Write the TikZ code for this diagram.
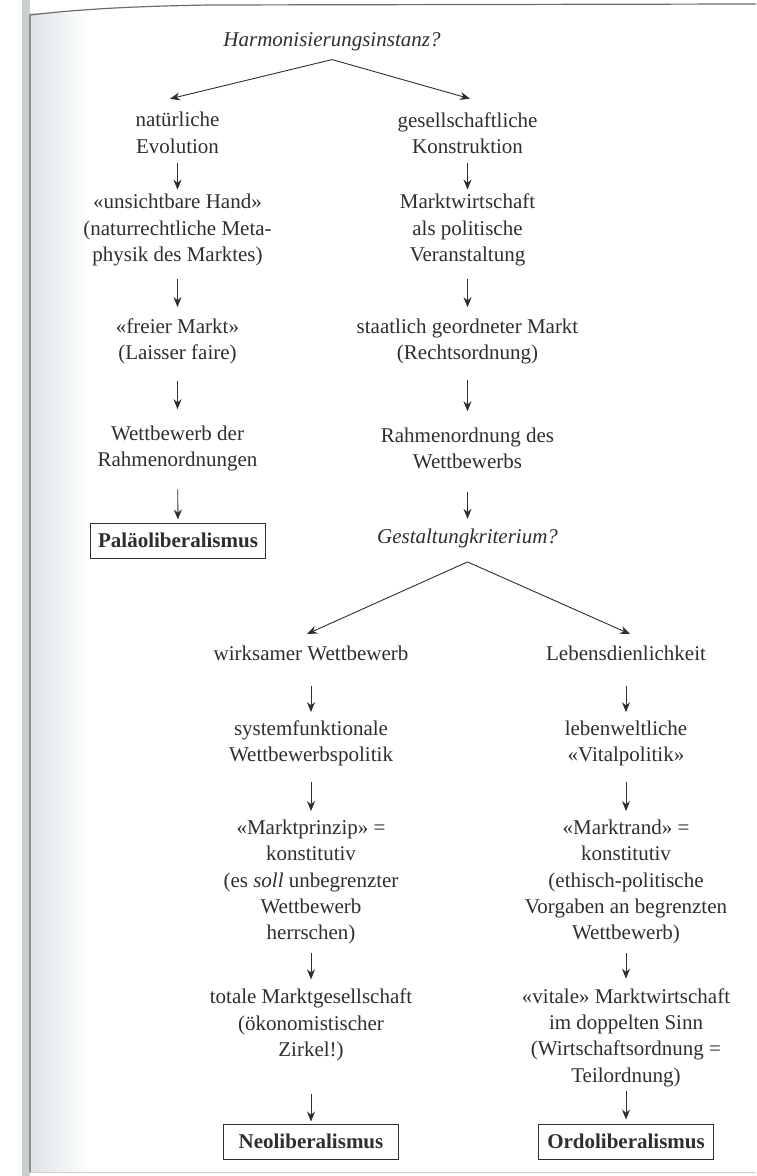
\documentclass[tikz,border=0pt]{standalone}
\usepackage{fontspec}
\setmainfont{Liberation Serif}
\usepackage{tikz}
\usetikzlibrary{positioning,arrows.meta}
\definecolor{ink}{HTML}{2E2E2E}
\definecolor{pageedge}{HTML}{C8D0CC}
\definecolor{pageshade}{HTML}{DCE3E6}

\begin{document}
\begin{tikzpicture}[x=0.5pt,y=-0.5pt,
    every node/.style={align=center,inner sep=2pt,text=ink,font=\fontsize{10.5}{13.2}\selectfont},
    ask/.style={font=\fontsize{10.5}{13.2}\selectfont\itshape},
    lib/.style={draw=ink,line width=0.5pt,font=\fontsize{10.5}{13.2}\selectfont\bfseries,minimum height=17.5pt,minimum width=87.5pt},
    flow/.style={draw=ink,line width=0.45pt,-{Stealth[length=5pt,width=4pt]}}]
    \useasboundingbox (0,0) rectangle (756,1176);
    % edge of the scanned page
    \fill[pageedge] (22,0) rectangle (30,1176);
    \shade[left color=pageshade,right color=white] (30,14) rectangle (90,1172);
    \draw[ink!70,line width=0.6pt] (30,1172) -- (30,15) .. controls (90,8) and (150,6) .. (210,5) -- (756,4);
    \draw[ink!25,line width=0.5pt] (30,1172) -- (756,1172);

    \node[ask] (harm) at (332,42) {Harmonisierungsinstanz?};
    \coordinate[below=2pt of harm] (harmtip);
    \node (evo) at (177.5,133) {natürliche\\Evolution};
    \node (konstr) at (467.5,133) {gesellschaftliche\\Konstruktion};
    \node (hand) at (177.5,230) {«unsichtbare Hand»\\(naturrechtliche Meta-\\physik des Marktes)};
    \node (veranst) at (467.5,230) {Marktwirtschaft\\als politische\\Veranstaltung};
    \node (frei) at (177.5,341.5) {«freier Markt»\\(Laisser faire)};
    \node (staat) at (467.5,341.5) {staatlich geordneter Markt\\(Rechtsordnung)};
    \node (rahmenL) at (177.5,448.5) {Wettbewerb der\\Rahmenordnungen};
    \node (rahmenR) at (467.5,448.5) {Rahmenordnung des\\Wettbewerbs};
    \node[lib] (palaeo) at (178,540.5) {Paläoliberalismus};
    \node[ask] (gestalt) at (467.5,538) {Gestaltungkriterium?};
    \coordinate[below=5pt of gestalt] (gestalttip);
    \node (wirksam) at (311,653) {wirksamer Wettbewerb};
    \node (leben) at (626,653) {Lebensdienlichkeit};
    \node (sysfunk) at (311,743.5) {systemfunktionale\\Wettbewerbspolitik};
    \node (vital) at (626,743.5) {lebenweltliche\\«Vitalpolitik»};
    \node (prinzip) at (311,882) {«Marktprinzip» =\\konstitutiv\\(es \textit{soll} unbegrenzter\\Wettbewerb\\herrschen)};
    \node (rand) at (626,882) {«Marktrand» =\\konstitutiv\\(ethisch-politische\\Vorgaben an begrenzten\\Wettbewerb)};
    \node (total) at (311,1025) {totale Marktgesellschaft\\(ökonomistischer\\Zirkel!)};
    \node (vitale) at (626,1037.5) {«vitale» Marktwirtschaft\\im doppelten Sinn\\(Wirtschaftsordnung =\\Teilordnung)};
    \node[lib] (neo) at (311,1141.5) {Neoliberalismus};
    \node[lib] (ordo) at (626,1141.5) {Ordoliberalismus};

    \draw[flow] (harmtip) -- ([xshift=-3.75pt,yshift=4.6pt]evo.north);
    \draw[flow] (harmtip) -- ([xshift=1.25pt,yshift=4.6pt]konstr.north);
    \draw[flow,shorten <=2.5pt] (evo) -- (hand);
    \draw[flow,shorten <=2.5pt] (konstr) -- (veranst);
    \draw[flow,shorten <=4.3pt,shorten >=3.6pt] (hand) -- (frei);
    \draw[flow,shorten <=4.3pt,shorten >=3.6pt] (veranst) -- (staat);
    \draw[flow,shorten <=6.2pt,shorten >=6.1pt] (frei) -- (rahmenL);
    \draw[flow,shorten <=5.8pt,shorten >=6.1pt] (staat) -- (rahmenR);
    \draw[flow,shorten <=6.8pt,shorten >=1.5pt] (rahmenL) -- (palaeo);
    \draw[flow,shorten <=9pt,shorten >=2.6pt] (rahmenR) -- (gestalt);
    \draw[flow] (gestalttip) -- ([xshift=-2pt,yshift=3.6pt]wirksam.north);
    \draw[flow] (gestalttip) -- ([xshift=2pt,yshift=3.6pt]leben.north);
    \draw[flow,shorten <=10.5pt,shorten >=2.1pt] (wirksam) -- (sysfunk);
    \draw[flow,shorten <=10.5pt,shorten >=2.1pt] (leben) -- (vital);
    \draw[flow,shorten <=5.8pt,shorten >=2.1pt] (sysfunk) -- (prinzip);
    \draw[flow,shorten <=5.8pt,shorten >=2.1pt] (vital) -- (rand);
    \draw[flow,shorten <=2.2pt,shorten >=2.6pt] (prinzip) -- (total);
    \draw[flow,shorten <=2.2pt,shorten >=2.6pt] (rand) -- (vitale);
    \draw[flow,shorten <=14.2pt,shorten >=1pt] (total) -- (neo);
    \draw[flow,shorten >=2pt] (vitale) -- (ordo);
\end{tikzpicture}
\end{document}
